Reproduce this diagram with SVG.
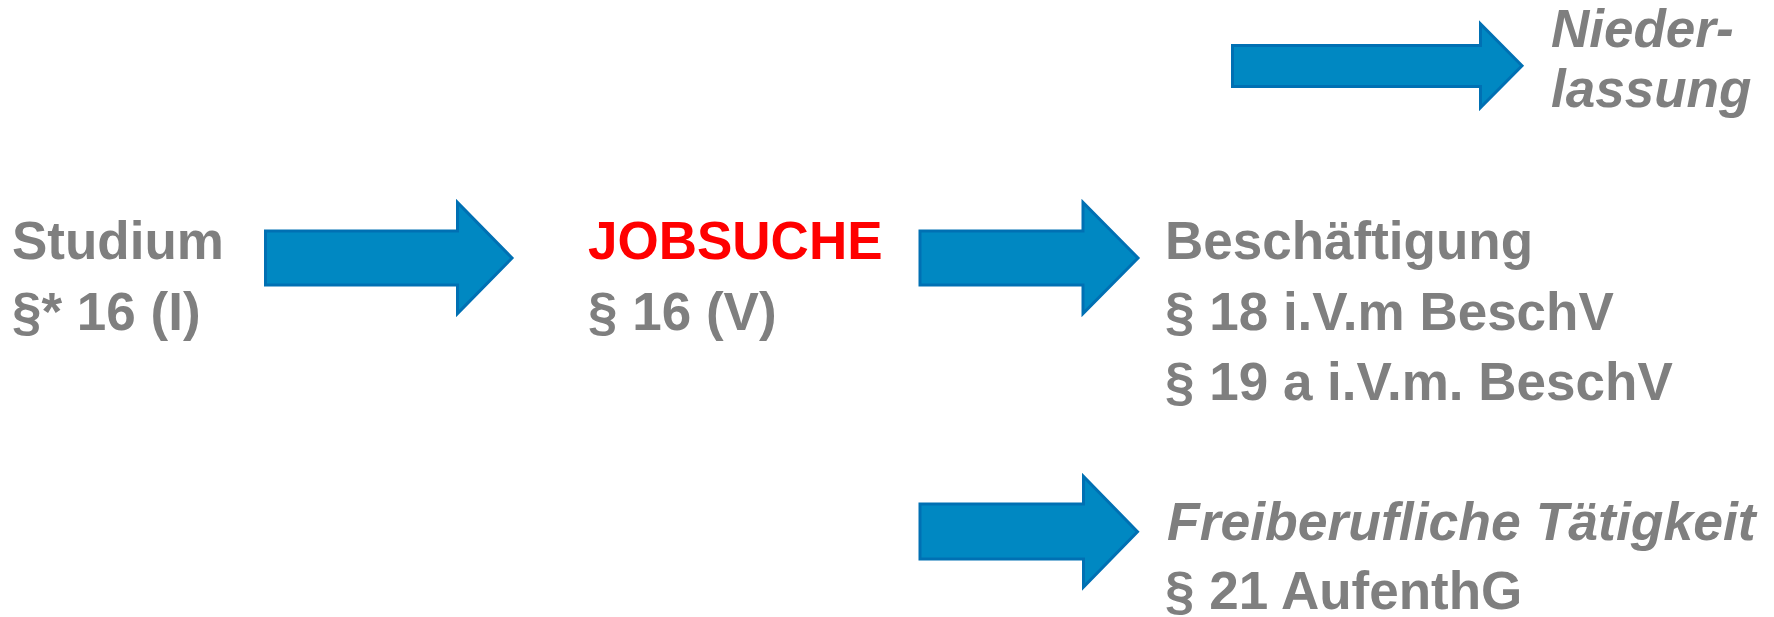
<svg xmlns="http://www.w3.org/2000/svg" width="1774" height="617" viewBox="0 0 1774 617">
<style>
.t{font-family:"Liberation Sans",Arial,sans-serif;font-weight:bold;font-size:53px;fill:#7F7F7F}
.i{font-style:italic}
.r{fill:#FF0000}
.arr{fill:#0088C2;stroke:#0070B3;stroke-width:3;stroke-linejoin:miter}
</style>
<rect width="1774" height="617" fill="#FFFFFF"/>
<g id="connectors">
<polygon class="arr" points="265.5,231 457.5,231 457.5,202.5 512,258 457.5,313.5 457.5,285 265.5,285"/>
<polygon class="arr" points="920,231 1083,231 1083,202.5 1138,258 1083,313.5 1083,285 920,285"/>
<polygon class="arr" points="920,504 1083.5,504 1083.5,476.5 1137.5,531.7 1083.5,587 1083.5,559 920,559"/>
<polygon class="arr" points="1232.5,45.5 1480.5,45.5 1480.5,24 1522,65.7 1480.5,107.5 1480.5,86.5 1232.5,86.5"/>
</g>
<g id="studium">
<text class="t" x="12" y="259">Studium</text>
<text class="t" x="12" y="330">§* 16 (I)</text>
</g>
<g id="jobsuche">
<text class="t r" x="588" y="259">JOBSUCHE</text>
<text class="t" x="588" y="330">§ 16 (V)</text>
</g>
<g id="beschaeftigung">
<text class="t" x="1165" y="259">Beschäftigung</text>
<text class="t" x="1165" y="330">§ 18 i.V.m BeschV</text>
<text class="t" x="1165" y="400">§ 19 a i.V.m. BeschV</text>
</g>
<g id="freiberuflich">
<text class="t i" x="1167" y="540" style="font-size:53.5px">Freiberufliche Tätigkeit</text>
<text class="t" x="1165" y="609">§ 21 AufenthG</text>
</g>
<g id="niederlassung">
<text class="t i" x="1551" y="47">Nieder-</text>
<text class="t i" x="1551" y="107">lassung</text>
</g>
</svg>
